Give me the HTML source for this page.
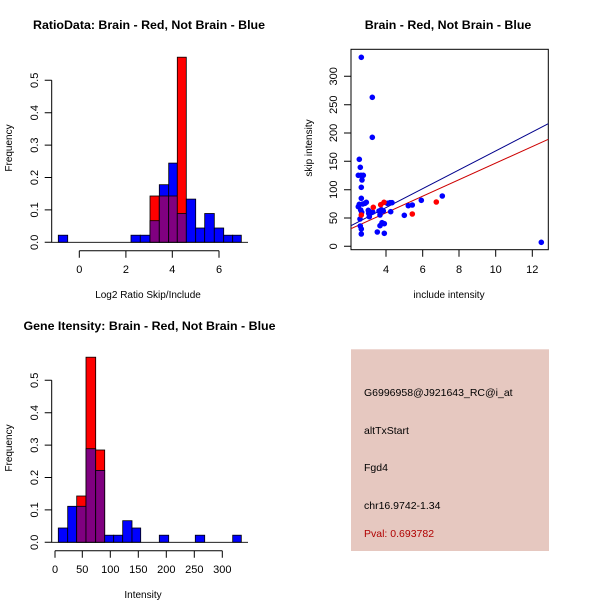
<!DOCTYPE html><html><head><style>body{margin:0;background:#fff}svg{display:block}text{font-family:"Liberation Sans",sans-serif}</style></head><body>
<svg width="600" height="600" viewBox="0 0 600 600">
<g font-weight="bold" font-size="12.4" text-anchor="middle">
<text x="149" y="29">RatioData: Brain - Red, Not Brain - Blue</text>
<text x="448" y="29">Brain - Red, Not Brain - Blue</text>
<text x="149.5" y="330">Gene Itensity: Brain - Red, Not Brain - Blue</text>
</g>
<g font-size="11" text-anchor="middle" fill="#000">
<text x="0" y="0" transform="translate(12,148) rotate(-90)" font-size="10">Frequency</text>
<text x="0" y="0" transform="translate(12,448) rotate(-90)" font-size="10">Frequency</text>
<text x="0" y="0" transform="translate(312,148) rotate(-90)" font-size="10">skip intensity</text>
<text x="148" y="298" font-size="10">Log2 Ratio Skip/Include</text>
<text x="449" y="298" font-size="10">include intensity</text>
<text x="143" y="598" font-size="10">Intensity</text>
</g>
<!-- plot1 -->
<g stroke="#000" stroke-width="0.8">
<rect x="58.3" y="235.2" width="9.4" height="7.1" fill="#0000ff"/>
<rect x="131" y="235.2" width="9.3" height="7.1" fill="#0000ff"/>
<rect x="140.3" y="235.2" width="9.7" height="7.1" fill="#0000ff"/>
<rect x="150" y="196" width="9.3" height="46.3" fill="#ff0000"/>
<rect x="150" y="220.7" width="9.3" height="21.6" fill="#800080"/>
<rect x="159.3" y="184.7" width="9.4" height="57.6" fill="#0000ff"/>
<rect x="159.3" y="196" width="9.4" height="46.3" fill="#800080"/>
<rect x="168.7" y="163.1" width="8.6" height="79.2" fill="#0000ff"/>
<rect x="168.7" y="196" width="8.6" height="46.3" fill="#800080"/>
<rect x="177.3" y="57.2" width="9" height="185.1" fill="#ff0000"/>
<rect x="177.3" y="213.5" width="9" height="28.8" fill="#800080"/>
<rect x="186.3" y="199.1" width="9.4" height="43.2" fill="#0000ff"/>
<rect x="195.7" y="228" width="9" height="14.3" fill="#0000ff"/>
<rect x="204.7" y="213.5" width="9.6" height="28.8" fill="#0000ff"/>
<rect x="214.3" y="228" width="9.4" height="14.3" fill="#0000ff"/>
<rect x="223.7" y="235.2" width="9" height="7.1" fill="#0000ff"/>
<rect x="232.7" y="235.2" width="8.6" height="7.1" fill="#0000ff"/>
<line x1="51.5" y1="242.3" x2="248" y2="242.3"/>
</g>
<g stroke="#000" stroke-width="1" fill="none">
<path d="M51.7 80.3V242.3M51.7 242.3h-7M51.7 209.9h-7M51.7 177.5h-7M51.7 145.1h-7M51.7 112.7h-7M51.7 80.3h-7"/>
<path d="M79.3 250.7H219M79.3 250.7v7M125.9 250.7v7M172.3 250.7v7M219 250.7v7"/>
</g>
<g font-size="11" text-anchor="middle">
<text transform="translate(38,242.3) rotate(-90)">0.0</text>
<text transform="translate(38,209.9) rotate(-90)">0.1</text>
<text transform="translate(38,177.5) rotate(-90)">0.2</text>
<text transform="translate(38,145.1) rotate(-90)">0.3</text>
<text transform="translate(38,112.7) rotate(-90)">0.4</text>
<text transform="translate(38,80.3) rotate(-90)">0.5</text>
<text x="79.3" y="273">0</text><text x="125.9" y="273">2</text><text x="172.3" y="273">4</text><text x="219" y="273">6</text>
</g>
<!-- plot3 -->
<g stroke="#000" stroke-width="0.8">
<rect x="58.3" y="528" width="9.4" height="14.3" fill="#0000ff"/>
<rect x="67.7" y="506.3" width="9" height="36" fill="#0000ff"/>
<rect x="76.7" y="496" width="9.3" height="46.3" fill="#ff0000"/>
<rect x="76.7" y="506.3" width="9.3" height="36" fill="#800080"/>
<rect x="86" y="357.2" width="9.7" height="185.1" fill="#ff0000"/>
<rect x="86" y="448.7" width="9.7" height="93.6" fill="#800080"/>
<rect x="95.7" y="450" width="9" height="92.3" fill="#ff0000"/>
<rect x="95.7" y="470.4" width="9" height="71.9" fill="#800080"/>
<rect x="104.7" y="535.2" width="9" height="7.1" fill="#0000ff"/>
<rect x="113.7" y="535.2" width="9" height="7.1" fill="#0000ff"/>
<rect x="122.7" y="520.7" width="9.3" height="21.6" fill="#0000ff"/>
<rect x="132" y="528" width="8.7" height="14.3" fill="#0000ff"/>
<rect x="159.3" y="535.2" width="9.4" height="7.1" fill="#0000ff"/>
<rect x="195.3" y="535.2" width="9.4" height="7.1" fill="#0000ff"/>
<rect x="232.7" y="535.2" width="8.6" height="7.1" fill="#0000ff"/>
<line x1="51.5" y1="542.3" x2="248" y2="542.3"/>
</g>
<g stroke="#000" stroke-width="1" fill="none">
<path d="M51.7 380.3V542.3M51.7 542.3h-7M51.7 509.9h-7M51.7 477.5h-7M51.7 445.1h-7M51.7 412.7h-7M51.7 380.3h-7"/>
<path d="M55 550.7H222.3M55 550.7v7M82.3 550.7v7M110.3 550.7v7M138.3 550.7v7M166.3 550.7v7M194.3 550.7v7M222.3 550.7v7"/>
</g>
<g font-size="11" text-anchor="middle">
<text transform="translate(38,542.3) rotate(-90)">0.0</text>
<text transform="translate(38,509.9) rotate(-90)">0.1</text>
<text transform="translate(38,477.5) rotate(-90)">0.2</text>
<text transform="translate(38,445.1) rotate(-90)">0.3</text>
<text transform="translate(38,412.7) rotate(-90)">0.4</text>
<text transform="translate(38,380.3) rotate(-90)">0.5</text>
<text x="55" y="573">0</text><text x="82.3" y="573">50</text><text x="110.3" y="573">100</text><text x="138.3" y="573">150</text><text x="166.3" y="573">200</text><text x="194.3" y="573">250</text><text x="222.3" y="573">300</text>
</g>
<!-- scatter -->
<rect x="351" y="49.3" width="197.3" height="200.4" fill="none" stroke="#000"/>
<g stroke="#000" fill="none">
<path d="M351 246.3h-7M351 218h-7M351 189.7h-7M351 161.3h-7M351 133h-7M351 104.7h-7M351 76.3h-7"/>
<path d="M386 249.7v7M422.7 249.7v7M459 249.7v7M495.7 249.7v7M532.3 249.7v7"/>
</g>
<g font-size="11" text-anchor="middle">
<text transform="translate(337,246.3) rotate(-90)">0</text>
<text transform="translate(337,218) rotate(-90)">50</text>
<text transform="translate(337,189.7) rotate(-90)">100</text>
<text transform="translate(337,161.3) rotate(-90)">150</text>
<text transform="translate(337,133) rotate(-90)">200</text>
<text transform="translate(337,104.7) rotate(-90)">250</text>
<text transform="translate(337,76.3) rotate(-90)">300</text>
<text x="386" y="273">4</text><text x="422.7" y="273">6</text><text x="459" y="273">8</text><text x="495.7" y="273">10</text><text x="532.3" y="273">12</text>
</g>
<svg x="351" y="49.3" width="197.3" height="200.4" viewBox="351 49.3 197.3 200.4" overflow="hidden">
<line x1="351" y1="225.7" x2="548.3" y2="123.7" stroke="#00008b" stroke-width="1"/>
<line x1="351" y1="228.7" x2="548.3" y2="139.3" stroke="#cd0000" stroke-width="1"/>
</svg>
<g fill="#0000ff">
<circle cx="361.3" cy="57.3" r="2.8"/><circle cx="372.3" cy="97.3" r="2.8"/><circle cx="372.3" cy="137.3" r="2.8"/>
<circle cx="359.3" cy="159.3" r="2.8"/><circle cx="360.3" cy="167.3" r="2.8"/><circle cx="358.3" cy="175.3" r="2.8"/>
<circle cx="361" cy="175.3" r="2.8"/><circle cx="363.3" cy="175.3" r="2.8"/><circle cx="362" cy="180" r="2.8"/>
<circle cx="361.3" cy="187.3" r="2.8"/><circle cx="361.3" cy="198.3" r="2.8"/><circle cx="359.3" cy="204.3" r="2.8"/>
<circle cx="362.7" cy="204" r="2.8"/><circle cx="365" cy="203.3" r="2.8"/><circle cx="366.3" cy="202.3" r="2.8"/>
<circle cx="358.3" cy="206.7" r="2.8"/><circle cx="360.7" cy="210" r="2.8"/><circle cx="361.7" cy="212.3" r="2.8"/>
<circle cx="368.3" cy="210.3" r="2.8"/><circle cx="368.7" cy="213.3" r="2.8"/><circle cx="370.7" cy="212.7" r="2.8"/>
<circle cx="372.7" cy="212" r="2.8"/><circle cx="369.3" cy="216.7" r="2.8"/><circle cx="360" cy="219" r="2.8"/>
<circle cx="360.3" cy="226" r="2.8"/><circle cx="361.3" cy="229" r="2.8"/><circle cx="361.3" cy="234" r="2.8"/>
<circle cx="377.3" cy="232" r="2.8"/><circle cx="380" cy="225.7" r="2.8"/><circle cx="382" cy="222.7" r="2.8"/>
<circle cx="384.3" cy="223.7" r="2.8"/><circle cx="384.3" cy="233.3" r="2.8"/><circle cx="379" cy="211" r="2.8"/>
<circle cx="381.3" cy="209.7" r="2.8"/><circle cx="383.3" cy="211" r="2.8"/><circle cx="380" cy="215" r="2.8"/>
<circle cx="387.3" cy="203.3" r="2.8"/><circle cx="390" cy="202.7" r="2.8"/><circle cx="392" cy="202.7" r="2.8"/>
<circle cx="390.7" cy="211.7" r="2.8"/><circle cx="404.3" cy="215.3" r="2.8"/><circle cx="408.3" cy="205.7" r="2.8"/>
<circle cx="412.3" cy="205" r="2.8"/><circle cx="421.3" cy="200.3" r="2.8"/><circle cx="442.3" cy="196" r="2.8"/>
<circle cx="541.3" cy="242.3" r="2.8"/>
</g>
<g fill="#ff0000">
<circle cx="361.3" cy="215" r="2.8"/><circle cx="373.3" cy="207.3" r="2.8"/><circle cx="380.7" cy="204.7" r="2.8"/>
<circle cx="384" cy="202.3" r="2.8"/><circle cx="412.3" cy="214" r="2.8"/><circle cx="436.3" cy="202" r="2.8"/>
</g>
<!-- info box -->
<rect x="351" y="349.3" width="198" height="201.7" fill="#e6c8c0"/>
<g font-size="10.5">
<text x="364" y="396">G6996958@J921643_RC@i_at</text>
<text x="364" y="434">altTxStart</text>
<text x="364" y="471">Fgd4</text>
<text x="364" y="509">chr16.9742-1.34</text>
<text x="364" y="537" fill="#b00000">Pval: 0.693782</text>
</g>
</svg>
</body></html>
